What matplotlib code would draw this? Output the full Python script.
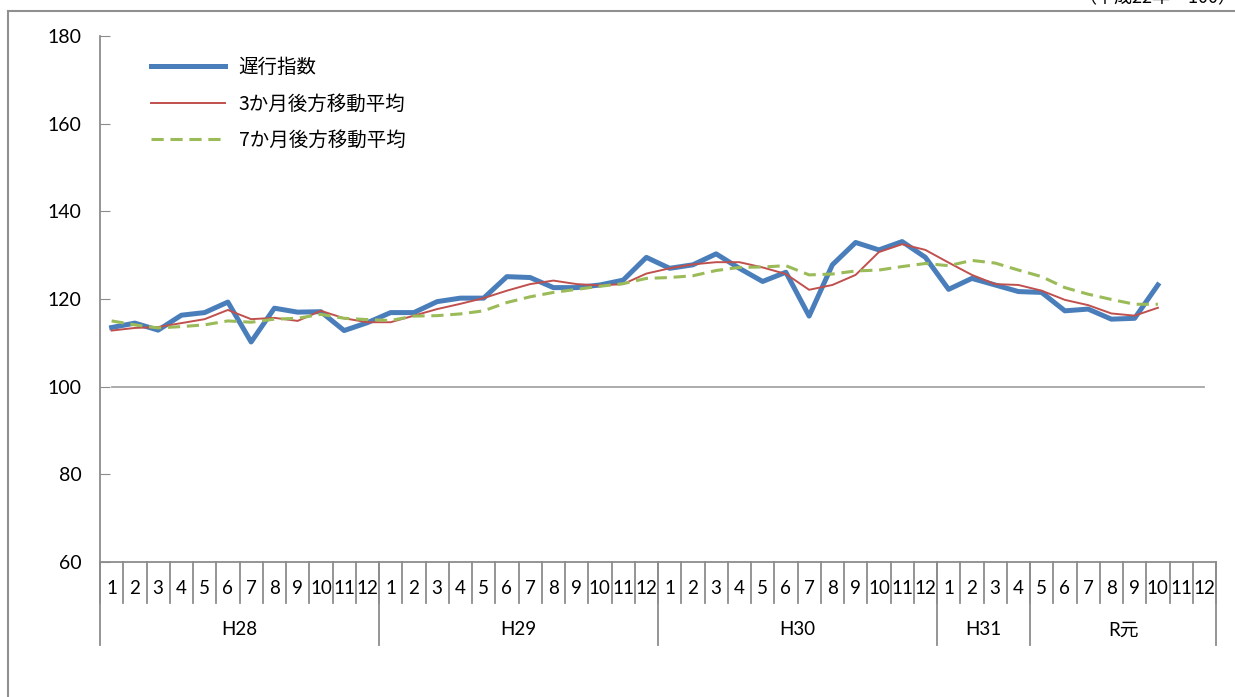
import matplotlib.pyplot as plt
import matplotlib.transforms as mtransforms

plt.rcParams['font.family'] = ['Lato', 'Noto Sans CJK JP', 'DejaVu Sans']

# 年ごとの月ラベル
years = ['H28', 'H29', 'H30', 'H31', 'R元']
year_months = [list(range(1, 13)), list(range(1, 13)), list(range(1, 13)),
               [1, 2, 3, 4], list(range(5, 13))]

# 遅行指数
lag_index = [113.5, 114.5, 112.9, 116.3, 116.9, 119.3, 110.2, 117.9, 117.0, 117.1, 112.8, 114.6,
             116.9, 116.9, 119.4, 120.2, 120.2, 125.1, 124.9, 122.6, 122.6, 123.2, 124.3, 129.5,
             127.0, 127.8, 130.3, 127.0, 124.0, 126.1, 116.1, 127.8, 132.9, 131.2, 133.1, 129.5,
             122.2, 124.7, 123.2, 121.7,
             121.5, 117.3, 117.7, 115.4, 115.6, 123.2]
# 3か月後方移動平均
ma3 = [112.8, 113.4, 113.6, 114.5, 115.4, 117.5, 115.4, 115.7, 115.0, 117.3, 115.6, 114.7,
       114.7, 116.2, 117.7, 118.9, 120.2, 121.9, 123.4, 124.2, 123.4, 123.1, 123.4, 125.8,
       127.0, 127.9, 128.4, 128.4, 127.2, 125.7, 122.1, 123.2, 125.5, 130.7, 132.5, 131.2,
       128.3, 125.5, 123.4, 123.2,
       121.9, 119.8, 118.6, 116.7, 116.2, 118.0]
# 7か月後方移動平均
ma7 = [115.0, 114.1, 113.4, 113.7, 114.1, 115.0, 114.7, 115.4, 115.6, 116.5, 115.6, 115.3,
       115.1, 116.1, 116.2, 116.6, 117.3, 119.2, 120.5, 121.5, 122.2, 122.9, 123.5, 124.7,
       124.9, 125.3, 126.5, 127.2, 127.3, 127.6, 125.5, 125.7, 126.4, 126.6, 127.4, 128.1,
       127.6, 128.8, 128.2, 126.6,
       125.1, 122.6, 121.1, 119.9, 118.8, 118.8]

month_labels = [m for ms in year_months for m in ms]
n = len(month_labels)
base = [100] * n

fig = plt.figure(figsize=(12.35, 6.97), dpi=100)

# 外枠（ピクセル座標の背景軸）
bg = fig.add_axes([0, 0, 1, 1], zorder=-1)
bg.set_xlim(0, 1235)
bg.set_ylim(697, 0)
bg.axis('off')
bg.plot([8, 1240], [10.5, 10.5], color='#909090', lw=1.5, clip_on=False)
bg.plot([8, 8], [10.5, 700], color='#909090', lw=1.5, clip_on=False)

ax = fig.add_axes([100 / 1235, 1 - 562 / 697, 1116 / 1235, 526 / 697])
ax.patch.set_alpha(0)

gray = '#8c8c8c'
xs = [i + 0.5 for i in range(n)]
ax.plot(xs, base, color='#a6a6a6', lw=1.3)
ax.plot(xs[:len(lag_index)], lag_index, color='#4a7ebb', lw=3.6, label='遅行指数')
ax.plot(xs[:len(ma3)], ma3, color='#c0504d', lw=1.4, label='3か月後方移動平均')
ax.plot(xs[:len(ma7)], ma7, color='#9bbb59', lw=2.2, dashes=(4, 2.2),
        label='7か月後方移動平均')

ax.set_xlim(0, n)
ax.set_ylim(60, 180)
ax.set_yticks(range(60, 181, 20))
ax.tick_params(axis='y', direction='in', length=7, color=gray, pad=13.5, labelsize=14)
ax.set_xticks([])
for s in ['top', 'right']:
    ax.spines[s].set_visible(False)
for s in ['left', 'bottom']:
    ax.spines[s].set_color(gray)
    ax.spines[s].set_linewidth(1.3)

# 下の月・年のラベル
trans = mtransforms.blended_transform_factory(ax.transData, ax.transAxes)
for i in range(n + 1):
    ax.plot([i, i], [0, -0.078], transform=trans, color=gray, lw=1.3, clip_on=False)
for i, m in enumerate(month_labels):
    ax.text(i + 0.5, -0.051, str(m), transform=trans, ha='center', va='center',
            fontsize=13.5)
start = 0
for y, ms in zip(years, year_months):
    ax.plot([start, start], [0, -0.158], transform=trans, color=gray, lw=1.3, clip_on=False)
    ax.text(start + len(ms) / 2, -0.129, y, transform=trans, ha='center', va='center',
            fontsize=13.5)
    start += len(ms)
ax.plot([start, start], [0, -0.158], transform=trans, color=gray, lw=1.3, clip_on=False)

leg = ax.legend(loc='upper left', bbox_to_anchor=(151 / 1235, 1 - 57 / 697),
                bbox_transform=fig.transFigure, frameon=False, handlelength=3.8,
                handletextpad=0.7, labelspacing=0.8, borderpad=0, borderaxespad=0,
                prop={'family': ['Noto Sans CJK JP'], 'size': 14})

fig.text(1236 / 1235, 1 + 2 / 697, '（平成22年＝100）', ha='right', va='center',
         fontsize=13, family=['Noto Sans CJK JP'])

fig.savefig('out.png', dpi=100)
